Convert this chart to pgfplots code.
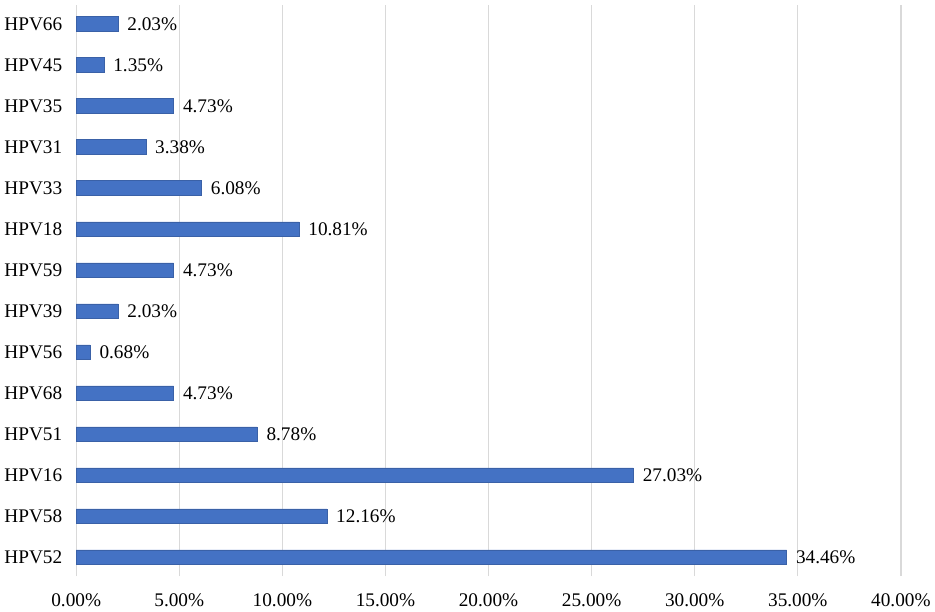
\documentclass[border=0pt]{standalone}
\usepackage{pgfplots}
\pgfplotsset{compat=1.18}
\usepackage{fontspec}
\setmainfont{Liberation Serif}
\definecolor{barblue}{HTML}{4472C4}
\definecolor{gridgray}{HTML}{D9D9D9}
\begin{document}
\begin{tikzpicture}[x=1pt,y=1pt]
\begin{axis}[
  scale only axis,
  width=621pt, height=430pt,
  xbar, bar width=10.8pt,
  xmin=0, xmax=40,
  ymin=-0.46, ymax=13.46,
  xtick={0,5,...,40},
  ytick={0,...,13},
  yticklabels={HPV52,HPV58,HPV16,HPV51,HPV68,HPV56,HPV39,HPV59,HPV18,HPV33,HPV31,HPV35,HPV45,HPV66},
  xticklabel={\pgfmathprintnumber[fixed,fixed zerofill,precision=2]{\tick}\%},
  /pgf/number format/assume math mode=true,
  axis line style={draw=none},
  major tick length=0pt,
  xmajorgrids, grid style={gridgray, line width=0.9pt},
  ymajorgrids=false,
  tick label style={font=\fontsize{14.5}{17}\selectfont, text=black},
  xticklabel style={yshift=-10pt},
  yticklabel style={xshift=-7pt},
  point meta=x,
  nodes near coords={\pgfmathprintnumber[fixed,fixed zerofill,precision=2]{\pgfplotspointmeta}\%},
  nodes near coords style={font=\fontsize{14.5}{17}\selectfont, text=black, anchor=west, xshift=3.5pt},
  clip=false,
]
\addplot[fill=barblue, draw=barblue!85!black, line width=0.4pt] coordinates {
(34.46,0) (12.16,1) (27.03,2) (8.78,3) (4.73,4) (0.68,5) (2.03,6)
(4.73,7) (10.81,8) (6.08,9) (3.38,10) (4.73,11) (1.35,12) (2.03,13)
};
\end{axis}
\path (current axis.south west) ++(-57pt,-25.5pt) coordinate (bbA);
\path (current axis.north east) ++(23.25pt,3.75pt) coordinate (bbB);
\path (bbA) rectangle (bbB);
\end{tikzpicture}
\end{document}
